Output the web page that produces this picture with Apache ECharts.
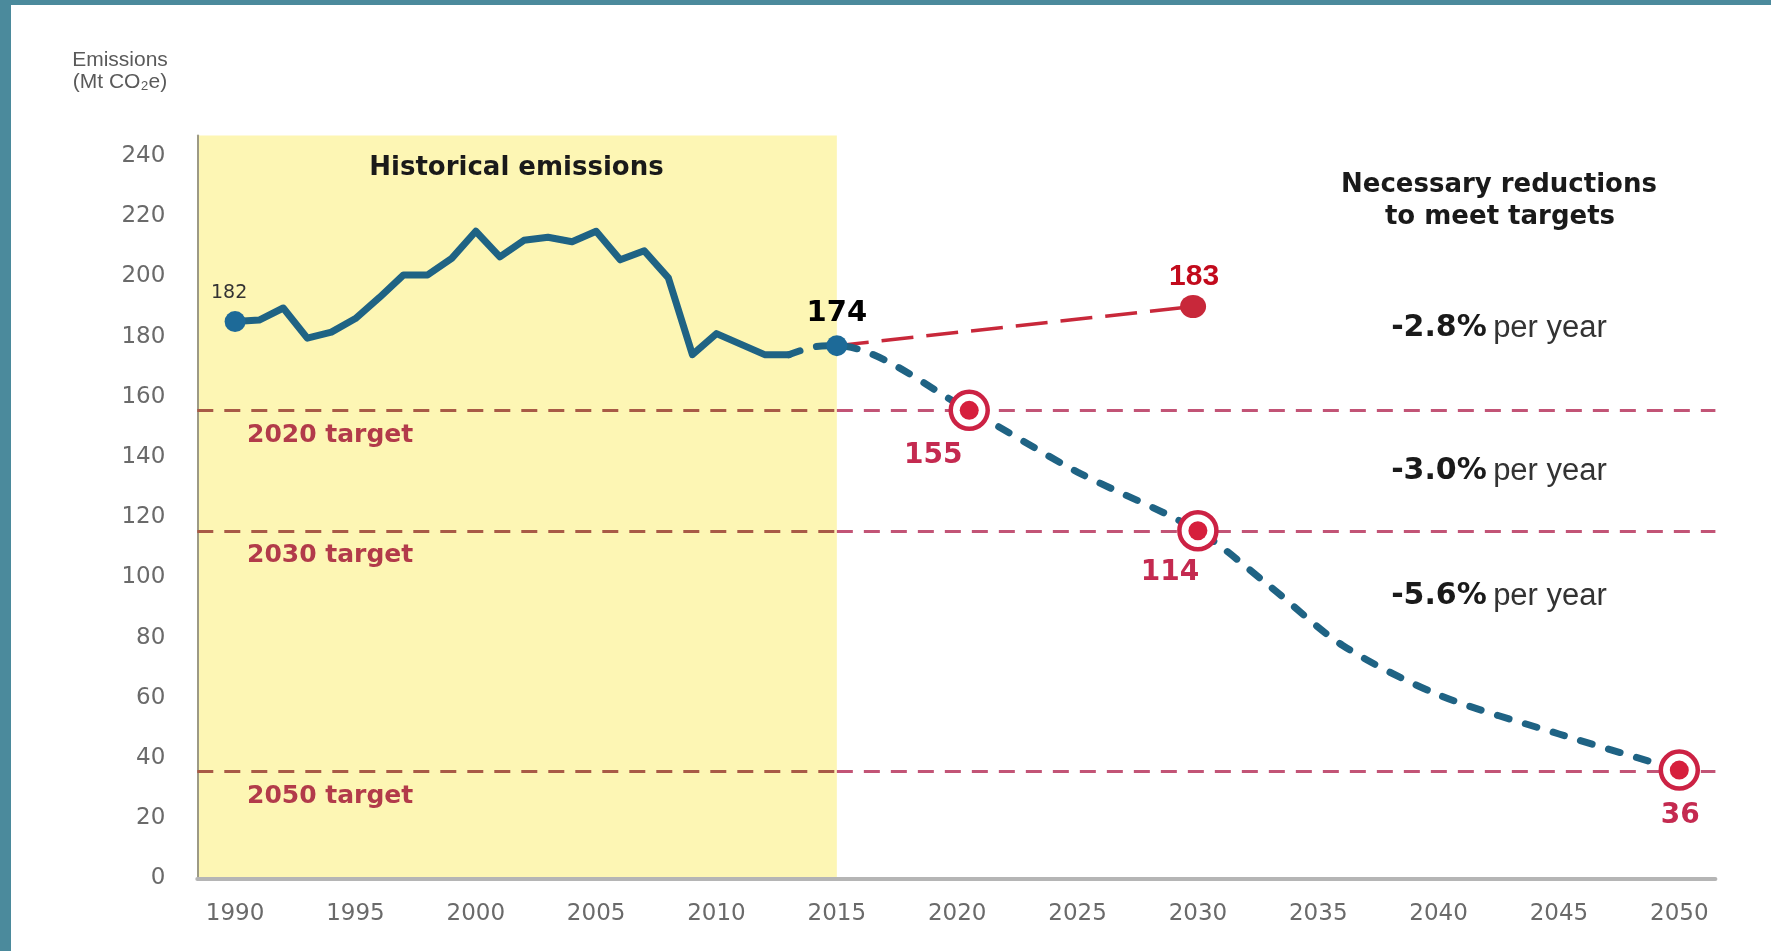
<!DOCTYPE html>
<html>
<head>
<meta charset="utf-8">
<script src="https://cdn.jsdelivr.net/npm/echarts@6/dist/echarts.min.js"></script>
<style>
html,body{margin:0;padding:0;background:#fff;}
#c{width:1771px;height:951px;}
</style>
</head>
<body>
<div id="c"></div>
<script>
// ---------- DATA ----------
const histYears  = [1990,1991,1992,1993,1994,1995,1996,1997,1998,1999,2000,2001,2002,2003,2004,2005,2006,2007,2008,2009,2010,2011,2012,2013];
const histValues = [185,185.5,189.5,179.5,181.5,186,193,200.5,200.5,206,215,206.5,212,213,211.5,215,205.5,208.5,199.5,174,181,177.5,174,174];

const projYears  = [2013,2014,2015,2020.5,2025,2030,2033,2036,2040,2045,2050];
const projValues = [174,176.5,177,155.5,135,115.5,97,77.5,61,48,36];

const bauYears  = [2015,2029.8];
const bauValues = [177,190];
const bauLabel  = '183';

const keyLabels = ['182','174'];            // 1990 and 2015 values as printed

const targetYears       = [2020.5,2030,2050];
const targetPointValues = [155.5,115.5,36];
const targetPointLabels = ['155','114','36'];

const targetLineValues = [155.5,115.5,35.5];
const targetLineNames  = ['2020 target','2030 target','2050 target'];

const rateLabels = ['-2.8%','-3.0%','-5.6%'];

const xTickLabels = [1990,1995,2000,2005,2010,2015,2020,2025,2030,2035,2040,2045,2050];
const yTickLabels = [0,20,40,60,80,100,120,140,160,180,200,220,240];

// ---------- LAYOUT / STYLE ----------
const X_MIN = 1988.43, X_MAX = 2051.5, Y_MAX = 246.8, BAND_END = 2015;
const BLUE = '#1f6384', DOT_BLUE = '#1d6a98';
const RED = '#c8283a', RING = '#cc2244', TARGET_TXT = '#c42a50';
const ringLabelOffsets = [[-36,45],[-28,42],[1,46]];
const ratePosY = [328,471,596];

const chart = echarts.init(document.getElementById('c'));

const targetMarkData = [];
targetLineValues.forEach(v => {
  targetMarkData.push([{coord:[X_MIN,v], lineStyle:{color:'#a85a46'}},{coord:[BAND_END,v]}]);
  targetMarkData.push([{coord:[BAND_END,v], lineStyle:{color:'#c25476'}},{coord:[X_MAX,v]}]);
});

const option = {
  animation:false,
  backgroundColor:'#ffffff',
  grid:{left:197.3,right:55.6,top:135.5,bottom:72.5},
  xAxis:{
    type:'value', min:X_MIN, max:X_MAX, z:3,
    axisLine:{show:true,onZero:false,lineStyle:{color:'#b5b5b5',width:4}},
    axisTick:{show:false}, splitLine:{show:false},
    axisLabel:{customValues:xTickLabels, formatter:v=>String(v), color:'#6a6a6a',
      fontFamily:'DejaVu Sans', fontSize:23, margin:24}
  },
  yAxis:{
    type:'value', min:0, max:Y_MAX, z:3,
    axisLine:{show:true,lineStyle:{color:'#9d9a85',width:2}},
    axisTick:{show:false}, splitLine:{show:false},
    axisLabel:{customValues:yTickLabels, color:'#6a6a6a',
      fontFamily:'DejaVu Sans', fontSize:23, margin:32}
  },
  series:[
    { // historical band
      type:'line', z:1, data:[[X_MIN,0]], symbol:'none', lineStyle:{width:0}, silent:true,
      markArea:{silent:true, itemStyle:{color:'#fdf6b4'}, data:[[{xAxis:X_MIN},{xAxis:BAND_END}]]}
    },
    { // target lines
      type:'line', z:2, data:[[X_MIN,0]], symbol:'none', lineStyle:{width:0}, silent:true,
      markLine:{silent:true, symbol:['none','none'], label:{show:false},
        lineStyle:{type:[16,11], width:3}, data:targetMarkData}
    },
    {
      name:'Historical', type:'line', z:5, symbol:'none',
      data:histYears.map((y,i)=>[y,histValues[i]]),
      lineStyle:{color:BLUE,width:7,join:'round',cap:'round'}
    },
    {
      name:'Pathway', type:'line', z:5, symbol:'none', smooth:0.3,
      data:projYears.map((y,i)=>[y,projValues[i]]),
      lineStyle:{color:BLUE,width:7,type:[12,17],cap:'round'}
    },
    {
      name:'Business as usual', type:'line', z:4, symbol:'none',
      data:bauYears.map((y,i)=>[y,bauValues[i]]),
      lineStyle:{color:RED,width:3.5,type:[32,13]}
    },
    { // blue key dots
      type:'scatter', z:6, symbolSize:21, itemStyle:{color:DOT_BLUE, opacity:1},
      data:[
        {value:[histYears[0],histValues[0]], label:{show:true, formatter:keyLabels[0], position:'inside', offset:[-6,-28],
          fontFamily:'DejaVu Sans', fontSize:19, color:'#333'}},
        {value:[projYears[2],projValues[2]], label:{show:true, formatter:keyLabels[1], position:'inside', offset:[0,-32],
          fontFamily:'DejaVu Sans', fontWeight:'bold', fontSize:29, color:'#000'}}
      ]
    },
    { // BAU end dot
      type:'scatter', z:6, symbolSize:[26,23], itemStyle:{color:RED, opacity:1},
      data:[{value:[bauYears[1],bauValues[1]], label:{show:true, formatter:bauLabel, position:'inside', offset:[1,-30],
        fontFamily:'Liberation Sans', fontWeight:'bold', fontSize:30, color:'#c20a1c'}}]
    },
    { // target rings
      type:'scatter', z:7, symbolSize:37,
      itemStyle:{color:'#ffffff', borderColor:RING, borderWidth:4.5, opacity:1},
      data:targetYears.map((y,i)=>[y,targetPointValues[i]])
    },
    { // target inner dots + labels
      type:'scatter', z:8, symbolSize:19, itemStyle:{color:'#d61f3c', opacity:1},
      data:targetYears.map((y,i)=>({value:[y,targetPointValues[i]],
        label:{show:true, formatter:targetPointLabels[i], position:'inside', offset:ringLabelOffsets[i],
          fontFamily:'DejaVu Sans', fontWeight:'bold', fontSize:28, color:TARGET_TXT}}))
    }
  ]
};
chart.setOption(option);

// ---------- annotations ----------
const g = [
  {type:'rect', shape:{x:0,y:0,width:11,height:951}, style:{fill:'#4b8a9c'}, z:100},
  {type:'rect', shape:{x:0,y:0,width:1771,height:5}, style:{fill:'#4b8a9c'}, z:100},
  {type:'text', x:120, y:60, style:{text:'Emissions', font:'21px "Liberation Sans"', fill:'#5a5a5a', align:'center', verticalAlign:'middle'}},
  {type:'text', x:120, y:82, style:{text:'(Mt CO\u2082e)', font:'21px "Liberation Sans"', fill:'#5a5a5a', align:'center', verticalAlign:'middle'}},
  {type:'text', x:516.5, y:168, z:10, style:{text:'Historical emissions', font:'bold 26px "DejaVu Sans"', fill:'#1a1a1a', align:'center', verticalAlign:'middle'}},
  {type:'text', x:1499, y:185, style:{text:'Necessary reductions', font:'bold 26px "DejaVu Sans"', fill:'#1a1a1a', align:'center', verticalAlign:'middle'}},
  {type:'text', x:1500, y:217, style:{text:'to meet targets', font:'bold 26px "DejaVu Sans"', fill:'#1a1a1a', align:'center', verticalAlign:'middle'}}
];
rateLabels.forEach((r,i)=>{
  g.push({type:'text', x:1499, y:ratePosY[i], style:{
    text:'{b|'+r+'} {n|per year}', align:'center', verticalAlign:'middle',
    rich:{
      b:{fontFamily:'DejaVu Sans', fontWeight:'bold', fontSize:30, fill:'#1a1a1a', color:'#1a1a1a'},
      n:{fontFamily:'Liberation Sans', fontSize:31, fill:'#333', color:'#333', padding:[0,0,0,3]}
    }}});
});
targetLineValues.forEach((v,i)=>{
  const p = chart.convertToPixel({gridIndex:0},[X_MIN,v]);
  g.push({type:'text', x:247, y:p[1]+25, z:10, style:{text:targetLineNames[i], font:'bold 25px "DejaVu Sans"', fill:'#b23b4a', align:'left', verticalAlign:'middle'}});
});
chart.setOption({graphic:g});
</script>
</body>
</html>
